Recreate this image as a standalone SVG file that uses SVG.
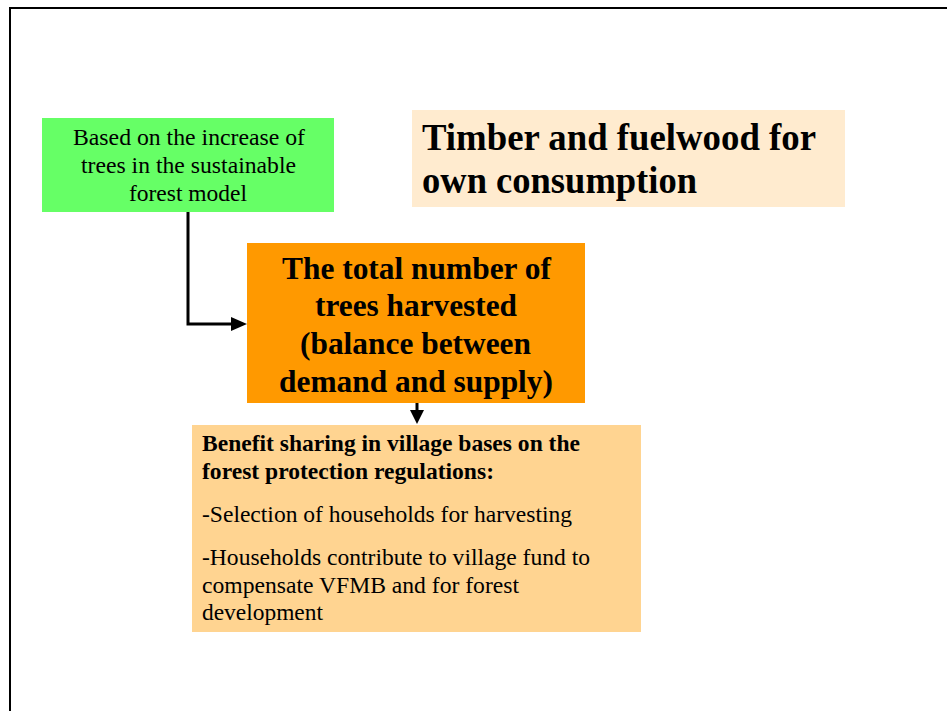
<svg xmlns="http://www.w3.org/2000/svg" width="947" height="711" viewBox="0 0 947 711">
<style>
text{font-family:"Liberation Serif","Times New Roman",serif;fill:#000}
.b{font-weight:bold}
.c{text-anchor:middle}
.s{font-size:24px}
.t{font-size:37px;font-weight:bold}
.o{font-size:32px;font-weight:bold;text-anchor:middle}
.conn{stroke:#000;stroke-width:3;fill:none}
</style>
<rect x="0" y="0" width="947" height="711" fill="#fff"/>
<rect x="10" y="8" width="950" height="720" fill="none" stroke="#000" stroke-width="2"/>
<g id="green">
<rect x="42" y="118" width="292" height="94" fill="#66FF66"/>
<text x="189" y="145" class="s c" textLength="232" lengthAdjust="spacingAndGlyphs">Based on the increase of</text>
<text x="188.5" y="173" class="s c" textLength="215" lengthAdjust="spacingAndGlyphs">trees in the sustainable</text>
<text x="188" y="201" class="s c" textLength="118" lengthAdjust="spacingAndGlyphs">forest model</text>
</g>
<g id="title">
<rect x="412" y="110" width="433" height="97" fill="#FFEBCF"/>
<text x="422" y="150" class="t" textLength="394" lengthAdjust="spacingAndGlyphs">Timber and fuelwood for</text>
<text x="422" y="193" class="t" textLength="275" lengthAdjust="spacingAndGlyphs">own consumption</text>
</g>
<g id="total">
<rect x="247" y="243" width="338" height="160" fill="#FF9900"/>
<text x="416.5" y="279" class="o" textLength="269" lengthAdjust="spacingAndGlyphs">The total number of</text>
<text x="416" y="316" class="o" textLength="202" lengthAdjust="spacingAndGlyphs">trees harvested</text>
<text x="415.5" y="354" class="o" textLength="231" lengthAdjust="spacingAndGlyphs">(balance between</text>
<text x="416" y="392" class="o" textLength="274" lengthAdjust="spacingAndGlyphs">demand and supply)</text>
</g>
<g id="benefit">
<rect x="192" y="425" width="449" height="207" fill="#FFD491"/>
<text x="202" y="451" class="s b" textLength="378" lengthAdjust="spacingAndGlyphs">Benefit sharing in village bases on the</text>
<text x="202" y="479" class="s b" textLength="292" lengthAdjust="spacingAndGlyphs">forest protection regulations:</text>
<text x="202" y="522" class="s" textLength="370" lengthAdjust="spacingAndGlyphs">-Selection of households for harvesting</text>
<text x="202" y="565" class="s" textLength="388" lengthAdjust="spacingAndGlyphs">-Households contribute to village fund to</text>
<text x="202" y="593" class="s" textLength="317" lengthAdjust="spacingAndGlyphs">compensate VFMB and for forest</text>
<text x="202" y="620" class="s" textLength="121" lengthAdjust="spacingAndGlyphs">development</text>
</g>
<g id="connectors">
<path class="conn" d="M188,212 V324 H238" />
<path d="M231,317 L247,324 L231,331 z" fill="#000"/>
<path class="conn" d="M417,403 V412" />
<path d="M410,410 L417,424 L424,410 z" fill="#000"/>
</g>
</svg>
